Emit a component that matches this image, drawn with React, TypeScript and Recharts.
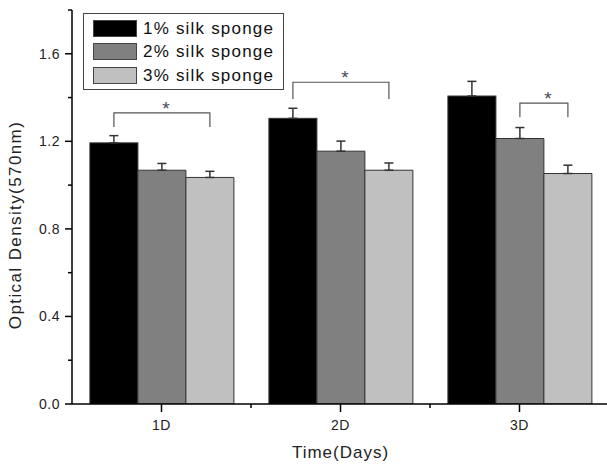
import React from "react";
import { BarChart, Bar, XAxis, YAxis, ErrorBar, Legend } from "recharts";

const categories = ["1D", "2D", "3D"];
const seriesNames = ["1% silk sponge", "2% silk sponge", "3% silk sponge"];
const seriesColors = ["#000000", "#808080", "#c0c0c0"];

const silk1 = [1.193, 1.305, 1.407];
const silk2 = [1.068, 1.155, 1.213];
const silk3 = [1.035, 1.068, 1.053];
const err1 = [0.033, 0.046, 0.067];
const err2 = [0.031, 0.046, 0.05];
const err3 = [0.028, 0.033, 0.038];

const yTicks = [0, 0.2, 0.4, 0.6, 0.8, 1.0, 1.2, 1.4, 1.6, 1.8];

// significance brackets, one per day: from bar index to bar index
const bracketFrom = [0, 0, 1];
const bracketTo = [2, 2, 2];
const bracketTop = [1.33, 1.47, 1.375];
const bracketBottom = [1.265, 1.393, 1.31];

const font = "'Liberation Sans', Arial, sans-serif";
const textColor = "#222";

const data = categories.map((day, i) => ({
  day,
  s1: silk1[i],
  s2: silk2[i],
  s3: silk3[i],
  e1: [0, err1[i]],
  e2: [0, err2[i]],
  e3: [0, err3[i]],
}));

// first bar of each group also draws the significance bracket above the group
const BarWithBracket = (props: any) => {
  const { x, y, width, height, index, fill } = props;
  const zero = y + height;
  const unit = height / silk1[index];
  const cx = (k: number) => x + width * (k + 0.5);
  const x1 = cx(bracketFrom[index]);
  const x2 = cx(bracketTo[index]);
  const yt = zero - bracketTop[index] * unit;
  const yb = zero - bracketBottom[index] * unit;
  return (
    <g>
      <rect x={x} y={y} width={width} height={height} fill={fill} stroke="#333" strokeWidth={1} />
      <path d={`M${x1},${yb}V${yt}H${x2}V${yb}`} fill="none" stroke="#555" strokeWidth={1.2} />
      <text x={(x1 + x2) / 2 + 4} y={yt + 2} textAnchor="middle" fontSize={19} fill="#4a4a5a" fontFamily={font}>
        *
      </text>
    </g>
  );
};

const YTick = (props: any) => {
  const { x, y, payload } = props;
  const v = payload.value as number;
  const major = Math.round(v * 10) % 4 === 0;
  return (
    <g>
      <line x1={x} x2={x - (major ? 7 : 4)} y1={y} y2={y} stroke="#000" strokeWidth={1.5} />
      {major && (
        <text x={x - 12} y={y} dy={5} textAnchor="end" fontSize={14} fill={textColor} fontFamily={font} letterSpacing={0.5}>
          {v.toFixed(1)}
        </text>
      )}
    </g>
  );
};

const XTick = (props: any) => {
  const { x, y, payload, width } = props;
  const half = width / categories.length / 2;
  return (
    <g>
      <line x1={x} x2={x} y1={y} y2={y + 8} stroke="#000" strokeWidth={1.5} />
      <line x1={x + half} x2={x + half} y1={y} y2={y + 4} stroke="#000" strokeWidth={1.5} />
      <text x={x} y={y + 26} textAnchor="middle" fontSize={14} fill={textColor} fontFamily={font} letterSpacing={0.5}>
        {payload.value}
      </text>
    </g>
  );
};

const LegendBox = () => (
  <div
    style={{
      width: 201,
      height: 77,
      boxSizing: "border-box",
      border: "1px solid #444",
      padding: "3px 0 0 9px",
      background: "#fff",
      fontFamily: font,
    }}
  >
    {seriesNames.map((n, i) => (
      <div key={n} style={{ display: "flex", alignItems: "center", height: 23.3 }}>
        <div
          style={{
            width: 44,
            height: 17,
            boxSizing: "border-box",
            border: "1px solid #444",
            background: seriesColors[i],
            marginRight: 6,
          }}
        />
        <span style={{ fontSize: 17, letterSpacing: 1.2, color: "#111", lineHeight: 1 }}>{n}</span>
      </div>
    ))}
  </div>
);

export default function App() {
  return (
    <div style={{ position: "absolute", left: 0, top: 0, width: 607, height: 464, overflow: "hidden", background: "#fff" }}>
      <BarChart
        width={609}
        height={464}
        data={data}
        margin={{ top: 10, right: 0, bottom: 0, left: 0 }}
        barCategoryGap="10%"
        barGap={0}
      >
        <XAxis
          dataKey="day"
          height={60}
          axisLine={{ stroke: "#000", strokeWidth: 1.5 }}
          tickLine={false}
          tickSize={0}
          tickMargin={0}
          tick={<XTick />}
          interval={0}
          label={{
            content: (p: any) => {
              const vb = p.viewBox;
              return (
                <text x={vb.x + vb.width / 2} y={458} textAnchor="middle" fontSize={17} fill={textColor} fontFamily={font} letterSpacing={1}>
                  Time(Days)
                </text>
              );
            },
          }}
        />
        <YAxis
          width={72}
          domain={[0, 1.8]}
          ticks={yTicks}
          allowDataOverflow
          axisLine={{ stroke: "#000", strokeWidth: 1.5 }}
          tickLine={false}
          tickSize={0}
          tickMargin={0}
          tick={<YTick />}
          interval={0}
          label={{
            content: () => (
              <text
                x={21}
                y={225}
                transform="rotate(-90, 21, 225)"
                textAnchor="middle"
                fontSize={17}
                fill={textColor}
                fontFamily={font}
                letterSpacing={1.4}
              >
                Optical Density(570nm)
              </text>
            ),
          }}
        />
        <Legend
          layout="vertical"
          align="center"
          verticalAlign="middle"
          wrapperStyle={{ left: 83, top: 13, width: 201, height: 77 }}
          content={() => <LegendBox />}
        />
        <Bar dataKey="s1" name={seriesNames[0]} fill={seriesColors[0]} stroke="#333" shape={<BarWithBracket />} isAnimationActive={false}>
          <ErrorBar dataKey="e1" width={4.5} stroke="#333" strokeWidth={1.5} direction="y" />
        </Bar>
        <Bar dataKey="s2" name={seriesNames[1]} fill={seriesColors[1]} stroke="#333" isAnimationActive={false}>
          <ErrorBar dataKey="e2" width={4.5} stroke="#333" strokeWidth={1.5} direction="y" />
        </Bar>
        <Bar dataKey="s3" name={seriesNames[2]} fill={seriesColors[2]} stroke="#333" isAnimationActive={false}>
          <ErrorBar dataKey="e3" width={4.5} stroke="#333" strokeWidth={1.5} direction="y" />
        </Bar>
      </BarChart>
    </div>
  );
}
